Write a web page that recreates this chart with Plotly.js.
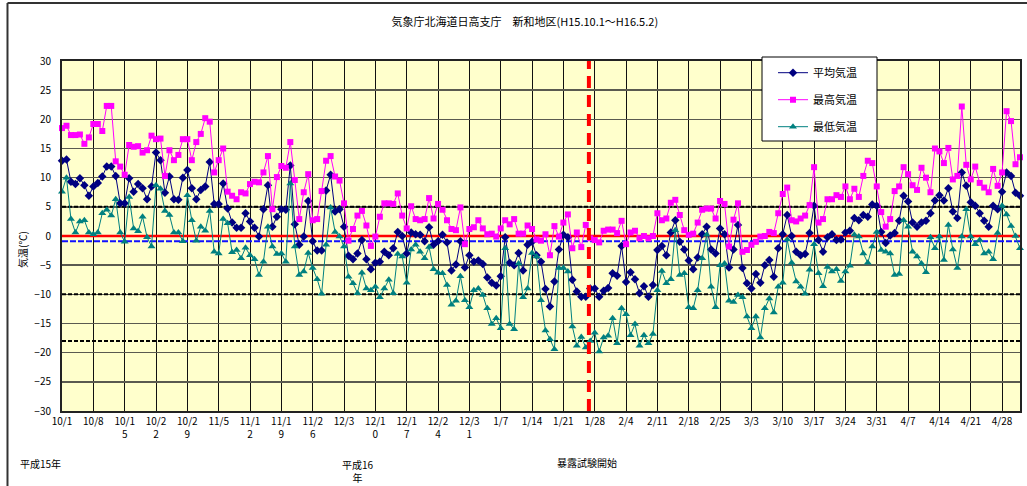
<!DOCTYPE html>
<html>
<head>
<meta charset="utf-8">
<script src="https://cdn.plot.ly/plotly-3.0.1.min.js"></script>
<style>
html,body{margin:0;padding:0;background:#fff;}
#chart{width:1027px;height:486px;}
</style>
</head>
<body>
<div id="chart"></div>
<script>
// daily data 2003-10-01 .. 2004-05-02 (215 days)
const tickLabels = ['10/1','10/8','10/1<br>5','10/2<br>2','10/2<br>9','11/5','11/1<br>2','11/1<br>9','11/2<br>6','12/3','12/1<br>0','12/1<br>7','12/2<br>4','12/3<br>1','1/7','1/14','1/21','1/28','2/4','2/11','2/18','2/25','3/3','3/10','3/17','3/24','3/31','4/7','4/14','4/21','4/28'];
const seriesNames = ['平均気温','最高気温','最低気温'];

const meanTemp = [12.9,13.1,9.3,8.9,9.9,8.7,6.9,8.5,9.1,10.2,
11.9,11.9,10.3,5.6,5.6,9.9,7.6,8.9,8.2,6.3,
8.5,14.3,13.0,7.4,10.2,6.3,6.2,10.0,11.3,8.2,
6.3,7.9,8.5,12.7,5.5,5.5,9.0,4.7,2.3,1.4,
1.4,3.9,2.5,1.4,-0.1,4.6,8.7,1.6,3.3,4.6,
4.5,12.1,2.0,-1.5,-0.1,6.0,-0.9,-2.5,-2.5,7.8,
10.5,4.2,4.6,1.6,-3.4,-4.0,-3.0,-0.7,-4.0,-5.7,
-4.6,-4.4,-2.7,-3.3,-2.1,0.7,0.0,-3.0,0.6,0.3,
0.2,-0.9,1.5,-1.5,-0.9,0.2,-1.1,-5.9,-4.9,-0.9,
-5.4,-3.3,-4.4,-4.2,-4.8,-7.1,-8.0,-8.5,-6.9,-0.2,
-4.6,-5.0,-2.9,-5.9,-1.5,-1.0,-3.3,-4.4,-9.1,-12.1,
-7.8,-2.3,0.2,-0.2,-7.5,-9.5,-10.4,-10.4,-9.0,-9.0,
-10.4,-9.4,-8.9,-6.4,-6.8,-1.7,-7.9,-6.2,-7.4,-9.8,
-8.6,-10.4,-8.4,-2.4,-1.7,-3.3,0.6,2.7,-1.0,-2.3,
-4.2,-5.7,-3.7,0.3,1.6,-2.3,-3.0,1.3,0.3,-5.4,
-2.3,1.9,-5.5,-8.1,-9.0,-6.5,-8.0,-5.0,-4.1,-7.0,
-2.1,0.3,3.6,0.0,-2.7,-3.3,-3.1,0.5,5.2,-0.7,
-2.7,-0.2,0.3,-0.7,-0.6,0.6,0.9,3.1,2.7,3.6,
3.3,5.4,5.2,0.7,-1.2,0.1,0.5,2.6,6.9,5.9,
2.3,1.6,2.3,2.6,3.9,6.1,7.0,6.1,8.2,4.2,
3.1,10.9,8.6,5.8,5.2,3.9,2.6,1.6,5.2,4.6,
7.6,10.9,10.3,7.4,6.9];

const maxTemp = [18.5,18.9,17.3,17.3,17.4,15.8,16.9,19.2,19.2,18.0,
22.3,22.3,12.8,11.9,10.5,15.6,15.3,15.4,14.3,14.7,
17.2,16.6,16.7,10.3,14.7,13.0,13.9,16.6,16.6,13.0,
16.1,17.5,20.2,19.6,10.9,13.0,15.0,7.6,6.9,6.3,
7.5,7.3,8.9,9.3,9.2,10.9,13.7,4.6,10.1,12.0,
11.7,16.1,9.6,2.9,7.5,10.6,2.7,2.9,7.7,12.9,
13.7,10.2,9.5,5.6,-0.8,1.2,3.5,4.3,1.8,-1.7,
-0.1,3.3,5.6,5.6,5.5,7.3,3.5,1.3,5.1,2.9,
2.7,2.9,6.5,3.0,5.5,4.5,2.7,1.2,1.0,4.9,
-1.4,1.2,1.5,2.7,1.3,0.3,0.4,-0.1,1.3,2.7,
2.0,2.9,0.4,0.4,1.8,1.2,-0.6,-0.8,0.3,-3.3,
1.7,-0.1,2.3,3.7,-2.1,0.6,-1.9,1.9,-0.4,-0.7,
-1.1,0.9,1.1,1.1,0.5,2.6,-1.4,0.6,0.9,-0.4,
0.0,-0.4,0.0,3.9,2.7,3.0,5.7,6.2,3.6,1.0,
0.2,0.4,2.3,4.5,4.7,4.7,3.0,6.0,5.5,-1.8,
2.8,5.6,-2.7,-2.4,-1.5,-1.0,-0.1,0.0,0.7,0.5,
3.9,7.2,8.3,2.7,2.5,3.0,3.5,5.3,11.8,2.3,
2.9,6.3,6.3,7.0,6.7,8.5,6.3,8.1,6.7,10.3,
12.9,12.5,8.5,4.1,1.6,2.9,7.7,8.5,11.8,10.6,
8.7,7.9,11.7,10.0,7.5,15.0,14.5,12.5,15.1,9.7,
10.3,22.2,12.2,9.7,11.9,9.1,8.3,7.5,11.5,8.6,
10.9,21.4,19.7,12.3,13.5];

const minTemp = [7.6,10.0,2.9,0.6,2.5,2.7,0.6,0.3,0.6,3.9,
4.5,3.5,6.3,0.6,-1.0,6.7,1.3,0.8,3.3,-0.2,
-1.8,8.7,8.1,4.3,3.6,0.6,0.6,-0.9,7.0,2.7,
-0.8,1.6,0.9,4.3,-2.7,-3.0,2.9,2.2,-2.8,-2.4,
-3.8,-2.0,-3.3,-4.0,-6.7,-4.4,1.6,-1.8,-3.1,-3.0,
-4.4,9.0,-1.8,-6.7,-6.1,-2.9,-5.5,-7.4,-9.9,-1.5,
4.9,0.7,-0.1,-1.8,-7.0,-8.1,-9.8,-6.3,-9.0,-9.3,
-8.7,-10.5,-9.0,-7.5,-9.8,-3.1,-3.5,-8.0,-2.3,-1.5,
-2.7,-3.8,-1.9,-5.7,-6.3,-6.4,-8.4,-11.8,-11.1,-6.9,
-11.0,-12.2,-9.3,-9.0,-10.1,-12.4,-15.1,-14.1,-15.8,-2.1,
-15.1,-16.0,-4.7,-10.5,-9.0,-2.9,-3.5,-11.0,-16.2,-17.7,
-19.4,-5.5,-5.5,-6.1,-15.5,-18.8,-17.3,-19.1,-18.0,-16.6,
-19.8,-17.4,-17.1,-14.1,-18.4,-12.4,-13.4,-17.0,-15.1,-18.8,
-17.0,-18.4,-16.8,-9.3,-6.0,-8.1,-7.4,1.0,-6.7,-6.4,
-12.2,-12.4,-9.3,-3.8,0.2,-8.7,-12.2,-5.0,-4.7,-11.1,
-11.3,-10.1,-10.5,-13.8,-15.8,-13.8,-17.4,-12.4,-10.7,-13.1,
-8.7,-8.0,-0.6,-4.6,-7.8,-8.7,-9.9,-5.8,-1.4,-6.4,
-8.6,-5.3,-6.1,-5.7,-7.7,-6.1,-5.1,0.2,-0.1,-3.0,
-4.6,-1.8,0.7,-2.4,-2.7,-3.0,-6.7,-6.5,2.7,1.6,
-2.7,-3.5,-4.7,-6.2,-0.2,-2.1,-0.1,-4.1,1.9,-2.3,
-5.5,-0.1,4.6,-0.1,-1.4,-0.7,-3.0,-2.7,-4.0,0.5,
5.2,3.7,1.7,0.0,-2.1];

const refLevels = [5, -10, -18];      // black dashed reference lines
const zeroLevel = 0;                  // red line
const blueLevel = -0.9;               // blue dashed line
const startDay = 117.7;               // 暴露試験開始 marker position (day index)

const dayIdx = meanTemp.map((_, i) => i);
const tickVals = tickLabels.map((_, k) => k * 7);
const lastIdx = dayIdx[dayIdx.length - 1];

const FONT = '"Noto Sans CJK JP", "Noto Sans", sans-serif';

const traces = [
  {x: dayIdx, y: meanTemp, name: seriesNames[0], type: 'scatter', mode: 'lines+markers',
   line: {color: '#000080', width: 1}, marker: {symbol: 'diamond', size: 6.5, color: '#000080'},
   legendgroup: 'a', cliponaxis: false},
  {x: dayIdx, y: maxTemp, name: seriesNames[1], type: 'scatter', mode: 'lines+markers',
   line: {color: '#FF00FF', width: 1}, marker: {symbol: 'square', size: 6, color: '#FF00FF'},
   legendgroup: 'b', cliponaxis: false},
  {x: dayIdx, y: minTemp, name: seriesNames[2], type: 'scatter', mode: 'lines+markers',
   line: {color: '#008080', width: 1}, marker: {symbol: 'triangle-up', size: 7, color: '#008080'},
   legendgroup: 'c', cliponaxis: false}
];

const shapes = [];
refLevels.forEach(v => shapes.push({type: 'line', xref: 'x', yref: 'y', x0: 0, x1: lastIdx, y0: v, y1: v,
  line: {color: '#000000', width: 2, dash: '4px,2px'}, layer: 'between'}));
shapes.push({type: 'line', xref: 'x', yref: 'y', x0: 0, x1: lastIdx, y0: zeroLevel, y1: zeroLevel,
  line: {color: '#FF0000', width: 2.5}, layer: 'between'});
shapes.push({type: 'line', xref: 'x', yref: 'y', x0: 0, x1: lastIdx, y0: blueLevel, y1: blueLevel,
  line: {color: '#1010FF', width: 2, dash: '6px,2px'}, layer: 'between'});
shapes.push({type: 'line', xref: 'x', yref: 'y', x0: startDay, x1: startDay, y0: -30, y1: 30,
  line: {color: '#FF0000', width: 4, dash: '12px,7px'}, layer: 'above'});
// outer frame (left and top edges)
shapes.push({type: 'line', xref: 'paper', yref: 'paper', x0: -0.0569, x1: -0.0569, y0: 1.1657, y1: -0.25,
  line: {color: '#333333', width: 2}, layer: 'above'});
shapes.push({type: 'line', xref: 'paper', yref: 'paper', x0: -0.0569, x1: 1.02, y0: 1.1657, y1: 1.1657,
  line: {color: '#333333', width: 2}, layer: 'above'});
// legend box (legend itself drawn transparent on top)
shapes.push({type: 'rect', xref: 'paper', yref: 'paper', x0: (762-62)/958, x1: (877-62)/958,
  y0: (411-141)/350, y1: (411-57)/350, fillcolor: '#ffffff', line: {color: '#000000', width: 1}, layer: 'above'});

const layout = {
  width: 1027, height: 486,
  margin: {l: 62, r: 7, t: 61, b: 75, pad: 0},
  paper_bgcolor: '#ffffff',
  plot_bgcolor: '#FFFFCC',
  font: {family: FONT, size: 10, color: '#000000'},
  title: {text: '気象庁北海道日高支庁　新和地区(H15.10.1～H16.5.2)', font: {family: FONT, size: 11, color: '#000'},
    x: 0.511, xanchor: 'center', xref: 'container', y: 1 - 22.5/486, yref: 'container', yanchor: 'middle'},
  xaxis: {
    range: [0, lastIdx], tickmode: 'array', tickvals: tickVals, ticktext: tickLabels,
    showgrid: true, gridcolor: '#111111', gridwidth: 1,
    showline: true, linecolor: '#222222', linewidth: 2, mirror: true,
    ticks: '', zeroline: false, tickangle: 0,
    tickfont: {family: FONT, size: 10, color: '#000'}, fixedrange: true
  },
  yaxis: {
    range: [-30, 30], dtick: 5, tick0: 0,
    showgrid: true, gridcolor: '#5a5a50', gridwidth: 1.5,
    showline: true, linecolor: '#222222', linewidth: 2, mirror: true,
    ticks: '', zeroline: false, ticklabelstandoff: 7,
    tickfont: {family: FONT, size: 10, color: '#000'}, fixedrange: true
  },
  legend: {
    x: (773-62)/958, y: 1.008, xanchor: 'left', yanchor: 'top',
    bgcolor: 'rgba(0,0,0,0)', borderwidth: 0,
    font: {family: FONT, size: 11, color: '#000'},
    traceorder: 'grouped', tracegroupgap: 8, itemwidth: 30
  },
  showlegend: true,
  shapes: shapes,
  annotations: [
    {text: '気温(℃)', textangle: -90, xref: 'paper', yref: 'paper', x: (22-62)/958, y: (411-250)/350,
     showarrow: false, font: {family: FONT, size: 10, color: '#000'}, xanchor: 'center', yanchor: 'middle'},
    {text: '平成15年', xref: 'paper', yref: 'paper', x: (40-62)/958, y: (411-463)/350,
     showarrow: false, font: {family: FONT, size: 10, color: '#000'}, xanchor: 'center', yanchor: 'middle'},
    {text: '平成16<br>年', xref: 'paper', yref: 'paper', x: (358-62)/958, y: (411-455)/350,
     showarrow: false, font: {family: FONT, size: 10, color: '#000'}, xanchor: 'center', yanchor: 'top'},
    {text: '暴露試験開始', xref: 'paper', yref: 'paper', x: (587-62)/958, y: (411-462)/350,
     showarrow: false, font: {family: FONT, size: 10, color: '#000'}, xanchor: 'center', yanchor: 'middle'}
  ]
};

Plotly.newPlot('chart', traces, layout, {displayModeBar: false, staticPlot: true});
</script>
</body>
</html>
